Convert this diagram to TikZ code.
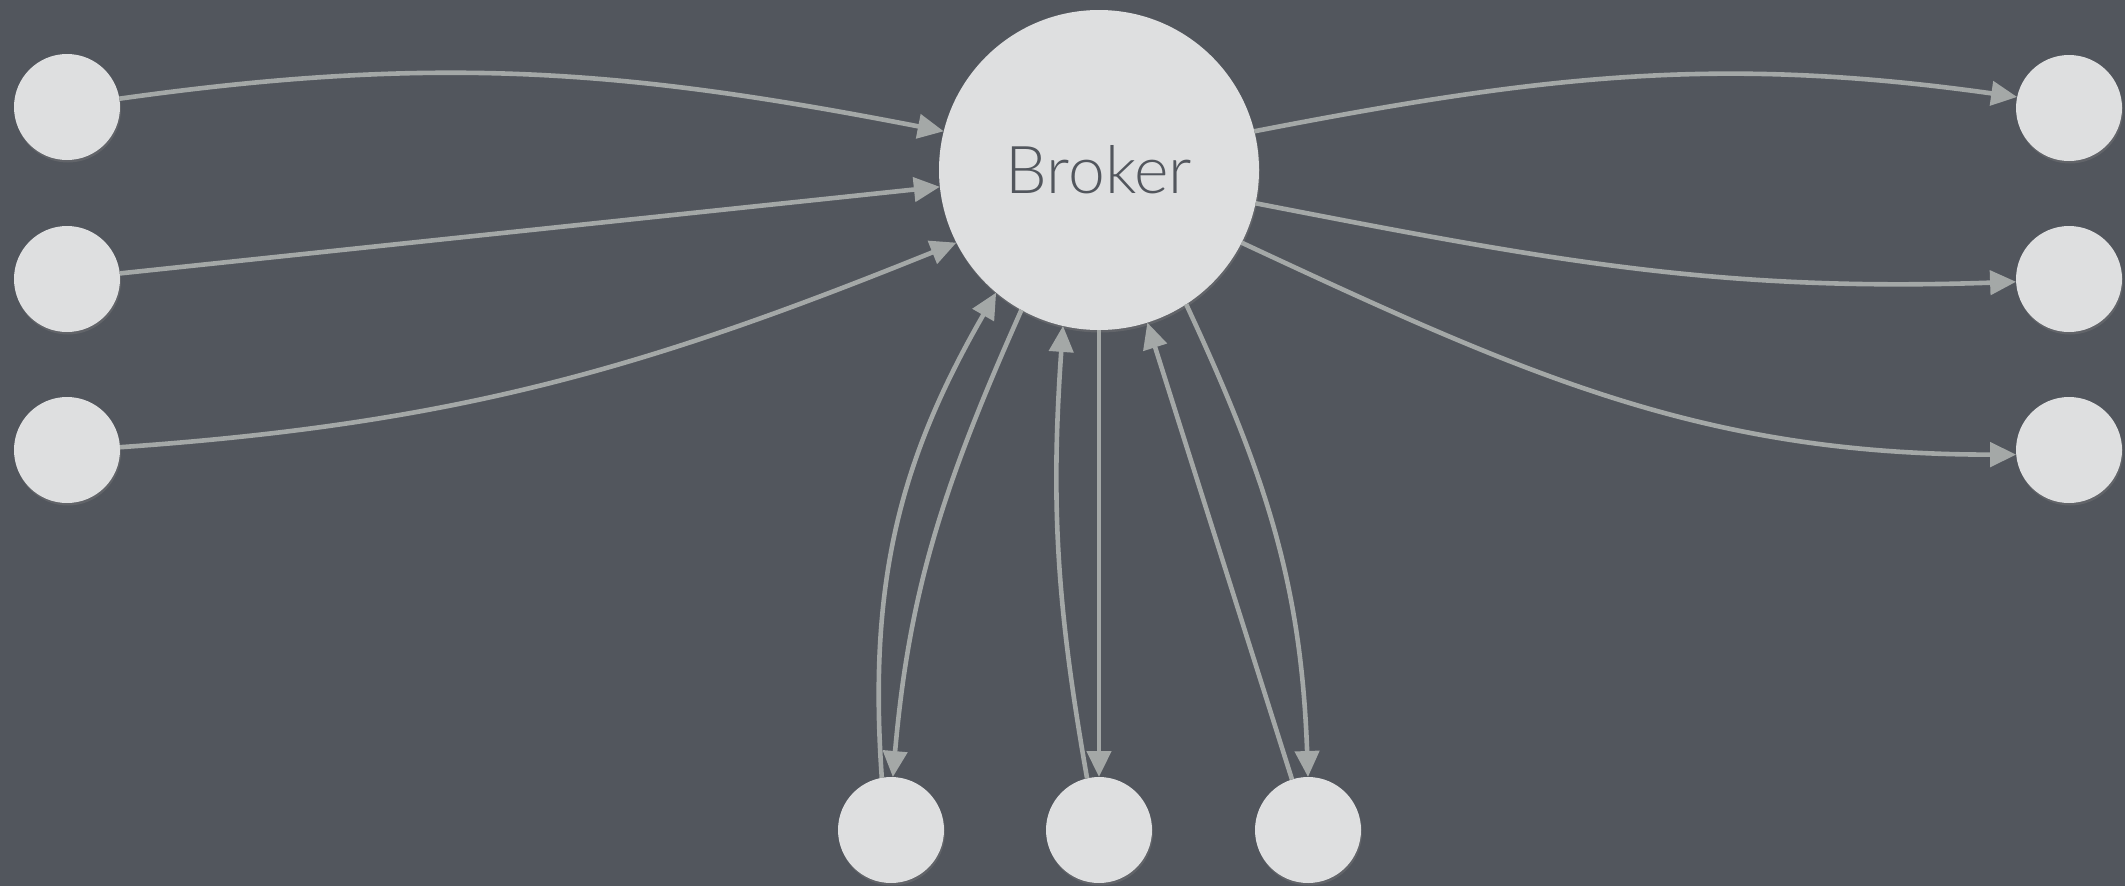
\documentclass[tikz,border=0pt]{standalone}
\usepackage{fontspec}
\IfFontExistsTF{Lato Light}{\newfontfamily\brokerfont{Lato Light}}{\newfontfamily\brokerfont{Lato}}
\usetikzlibrary{arrows.meta,shadows}
\definecolor{bg}{HTML}{52565D}
\definecolor{nodefill}{HTML}{DEDFE0}
\definecolor{edgecol}{HTML}{A4A8A7}
\begin{document}
\begin{tikzpicture}[x=1pt,y=1pt,
  client/.style={circle,fill=nodefill,minimum size=106pt,inner sep=0pt,outer sep=0pt,
    drop shadow={opacity=0.35,shadow xshift=1pt,shadow yshift=-2.5pt}},
  broker/.style={client,minimum size=320pt,font=\brokerfont\fontsize{66}{74}\selectfont,text=bg},
  conn/.style={draw=edgecol,line width=4.6pt,-{Triangle[length=26pt,width=24pt]}}]
\fill[bg] (0,0) rectangle (2125,-886);
\useasboundingbox (0,0) rectangle (2125,-886);
\node[broker] (B) at (1099,-170) {Broker};
\node[client] (L1) at (67,-107) {};
\node[client] (L2) at (67,-279) {};
\node[client] (L3) at (67,-450) {};
\node[client] (R1) at (2069,-108) {};
\node[client] (R2) at (2069,-279) {};
\node[client] (R3) at (2069,-450) {};
\node[client] (BL) at (891,-830) {};
\node[client] (BM) at (1099,-830) {};
\node[client] (BR) at (1308,-830) {};
\draw[conn] (L1.9) to[out=8,in=169] (B.166);
\draw[conn] (L2) -- (B);
\draw[conn] (L3.3) to[out=4,in=202] (B.207);
\draw[conn] (B.14) to[out=11,in=172] (R1.168);
\draw[conn] (B.348) to[out=-11,in=182] (R2.183);
\draw[conn] (B.333) to[out=-25,in=180] (R3.185);
\draw[conn] (BL.100) to[out=94,in=240] (B.230);
\draw[conn] (B.241) to[out=246,in=85] (BL.88);
\draw[conn] (BM.103) to[out=100,in=266] (B.257);
\draw[conn] (B) -- (BM);
\draw[conn] (BR) -- (B);
\draw[conn] (B.303) to[out=-65,in=92] (BR.90);
\end{tikzpicture}
\end{document}
